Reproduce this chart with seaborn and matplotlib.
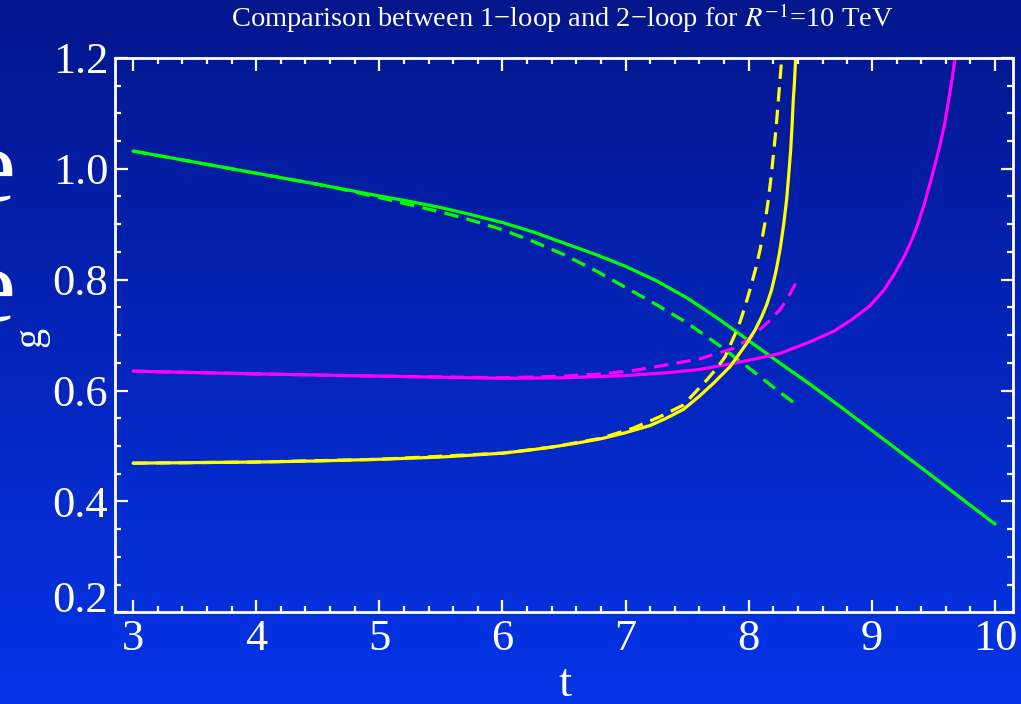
import numpy as np
import pandas as pd
import matplotlib
matplotlib.use("Agg")
import matplotlib.pyplot as plt
import seaborn as sns
from matplotlib.ticker import MultipleLocator, FormatStrFormatter

# ---------------- data ----------------
green_1_t = [3.0, 3.5, 4.0, 4.5, 5.0, 5.25, 5.5, 5.75, 6.0, 6.25, 6.5, 6.75, 7.0, 7.25, 7.5,
             7.75, 8.0, 8.25, 8.5, 8.75, 9.0, 9.5, 10.0]
green_1_e = [1.032, 1.012, 0.992, 0.972, 0.951, 0.941, 0.930, 0.917, 0.903, 0.886, 0.866, 0.846,
             0.824, 0.798, 0.767, 0.730, 0.690, 0.650, 0.611, 0.570, 0.528, 0.444, 0.359]

green_2_t = [3.0, 4.0, 4.6, 5.0, 5.5, 5.75, 6.0, 6.25, 6.5, 6.75, 7.0, 7.25, 7.5, 7.75, 8.0,
             8.2, 8.39]
green_2_e = [1.032, 0.992, 0.968, 0.948, 0.922, 0.907, 0.890, 0.869, 0.845, 0.817, 0.786, 0.755,
             0.722, 0.683, 0.641, 0.606, 0.574]

magenta_1_t = [3.0, 4.0, 5.0, 5.5, 6.0, 6.5, 7.0, 7.33, 7.6, 7.875, 8.05, 8.254, 8.5, 8.7,
               8.85, 8.985, 9.1, 9.188, 9.27, 9.33, 9.38, 9.43, 9.47, 9.51, 9.55, 9.59,
               9.62, 9.65, 9.68]
magenta_1_e = [0.635, 0.630, 0.626, 0.624, 0.622, 0.623, 0.627, 0.632, 0.638, 0.649, 0.657, 0.667,
               0.688, 0.708, 0.730, 0.753, 0.782, 0.812, 0.845, 0.875, 0.905, 0.940, 0.972,
               1.005, 1.040, 1.080, 1.120, 1.160, 1.205]

magenta_2_t = [3.0, 4.0, 5.0, 6.0, 6.5, 6.8, 7.06, 7.3, 7.6, 7.875, 8.0, 8.146, 8.25, 8.31, 8.38]
magenta_2_e = [0.635, 0.630, 0.626, 0.623, 0.626, 0.630, 0.636, 0.645, 0.657, 0.676, 0.693,
               0.721, 0.745, 0.764, 0.793]

yellow_1_t = [3.0, 3.5, 4.0, 4.5, 5.0, 5.5, 6.0, 6.2, 6.4, 6.6, 6.8, 7.0, 7.2, 7.33, 7.47,
              7.6, 7.713, 7.78, 7.848, 7.916, 7.983, 8.051, 8.105, 8.146, 8.186, 8.224,
              8.254, 8.284, 8.308, 8.325, 8.341, 8.352, 8.362, 8.371, 8.381]
yellow_1_e = [0.469, 0.470, 0.471, 0.473, 0.476, 0.480, 0.487, 0.492, 0.498, 0.505, 0.513,
              0.524, 0.537, 0.550, 0.566, 0.590, 0.613, 0.628, 0.643, 0.664, 0.685, 0.709,
              0.733, 0.755, 0.782, 0.818, 0.854, 0.900, 0.945, 0.990, 1.035, 1.079, 1.125,
              1.155, 1.200]

yellow_2_t = [3.0, 4.0, 5.0, 6.0, 6.4, 6.8, 7.06, 7.28, 7.47, 7.659, 7.74, 7.808, 7.862,
              7.916, 7.965, 8.01, 8.054, 8.092, 8.13, 8.159, 8.184, 8.205, 8.224, 8.241,
              8.254, 8.268]
yellow_2_e = [0.469, 0.471, 0.476, 0.487, 0.498, 0.514, 0.532, 0.553, 0.574, 0.619, 0.640,
              0.661, 0.688, 0.715, 0.748, 0.782, 0.818, 0.854, 0.900, 0.944, 0.990, 1.035,
              1.079, 1.125, 1.161, 1.200]

x_ticks = [3, 4, 5, 6, 7, 8, 9, 10]
y_ticks = [0.2, 0.4, 0.6, 0.8, 1.0, 1.2]

title_text = "Comparison between 1\u2212loop and 2\u2212loop for $R^{-1}$=10 TeV"

# ---------------- long table for seaborn ----------------
frames = []
for name, order, t, e in [
    ("green", "solid", green_1_t, green_1_e),
    ("green", "dashed", green_2_t, green_2_e),
    ("magenta", "solid", magenta_1_t, magenta_1_e),
    ("magenta", "dashed", magenta_2_t, magenta_2_e),
    ("yellow", "solid", yellow_1_t, yellow_1_e),
    ("yellow", "dashed", yellow_2_t, yellow_2_e),
]:
    frames.append(pd.DataFrame({"t": t, "e": e, "curve": name, "order": order}))
df = pd.concat(frames, ignore_index=True)

# ---------------- styling ----------------
sns.set_style("ticks")
plt.rcParams["font.family"] = ["Liberation Serif", "DejaVu Serif"]
plt.rcParams["mathtext.fontset"] = "stix"

W, H = 1021, 704
fig = plt.figure(figsize=(W / 100, H / 100), dpi=100)

# gradient background
bg = fig.add_axes([0, 0, 1, 1], zorder=-10)
bg.axis("off")
top = np.array([3, 22, 140]) / 255.0
bot = np.array([5, 52, 232]) / 255.0
s = np.linspace(0, 1, 256)[:, None]
grad = (top[None, :] * (1 - s) + bot[None, :] * s)[:, None, :]
bg.imshow(grad, aspect="auto", extent=[0, 1, 0, 1], origin="upper")

ax = fig.add_axes([115.3 / W, 1 - 612.3 / H, (1013 - 115.3) / W, (612.3 - 57.9) / H])
ax.set_facecolor("none")
ax.patch.set_alpha(0)

palette = {"green": "#00ff00", "magenta": "#ff00ff", "yellow": "#ffff00"}
sns.lineplot(data=df, x="t", y="e", hue="curve", style="order", palette=palette,
             dashes={"solid": "", "dashed": (4.5, 2.6)}, lw=2.3, legend=False,
             ax=ax, estimator=None, sort=True)
for ln in ax.lines:
    ln.set_solid_joinstyle("round")

ax.set_xlim(2.856, 10.146)
ax.set_ylim(0.2, 1.2)
ax.set_xlabel("")
ax.set_ylabel("")

ax.set_xticks(x_ticks)
ax.set_yticks(y_ticks)
ax.xaxis.set_minor_locator(MultipleLocator(0.2))
ax.yaxis.set_minor_locator(MultipleLocator(0.05))
ax.yaxis.set_major_formatter(FormatStrFormatter("%.1f"))
ax.tick_params(which="both", direction="in", top=True, right=True, colors="white",
               width=1.6, labelsize=32, labelcolor="white", pad=5)
ax.tick_params(which="major", length=9)
ax.tick_params(which="minor", length=4.5)
for sp in ax.spines.values():
    sp.set_color("white")
    sp.set_linewidth(2.0)
    sp.set_visible(True)

# lowest y label raised onto its baseline, as in the reference
yt = ax.yaxis.get_major_ticks()
yt[0].label1.set_verticalalignment("baseline")

fig.text(562 / W, 1 - 27 / H, title_text, ha="center", va="baseline",
         color="white", fontsize=20.5)
fig.text(565 / W, 1 - 696 / H, "t", ha="center", va="baseline", color="white", fontsize=34)

# y label (large e, e, rotated g), clipped at the left edge as in the reference
fig.text(16 / W, 1 - 201 / H, "e", ha="right", va="baseline", color="white", fontsize=76)
fig.text(16 / W, 1 - 321 / H, "e", ha="right", va="baseline", color="white", fontsize=76)
fig.text(31 / W, 1 - 337 / H, "g", ha="center", va="center", color="white", fontsize=29,
         rotation=90)

fig.savefig("out.png", dpi=100)
